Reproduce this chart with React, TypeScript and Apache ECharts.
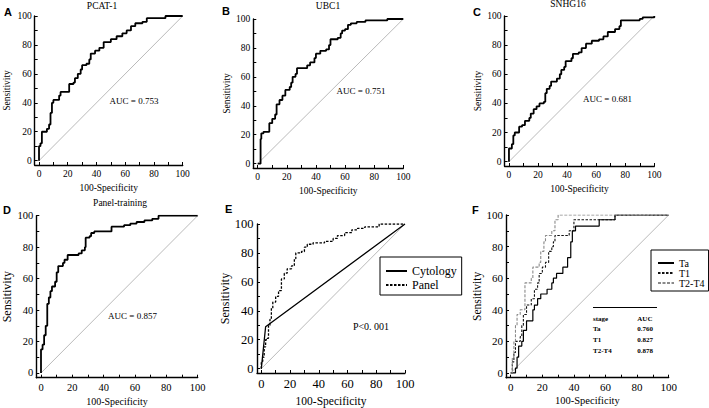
import React, { useEffect, useRef } from "react";
import * as echarts from "echarts";

// ---- tick values ----
const TICK_VALUES = [0, 20, 40, 60, 80, 100];
const MINOR_TICK_VALUES = [0, 10, 20, 30, 40, 50, 60, 70, 80, 90, 100];
const DIAGONAL_X = [0, 100];
const DIAGONAL_Y = [0, 100];

// ---- A: PCAT-1 ----
const pcat1X = [0, 0, 1, 2, 5.5, 7, 8, 9, 10, 14, 15, 21, 24, 25, 27, 29, 30, 33, 35, 36, 39, 42, 45, 50, 54, 58, 61, 64, 67, 72, 75, 88, 100];
const pcat1Y = [0, 10, 12, 20, 22, 25, 33, 40, 42, 45, 47.5, 53, 54, 57, 60, 63, 66, 67, 70, 74, 76, 78, 82, 84, 86, 88, 90, 93, 95, 96, 98.5, 100, 100];

// ---- B: UBC1 ----
const ubc1X = [0, 2, 2.5, 4, 8, 10, 12, 13, 15, 17, 19, 22, 23, 24, 26, 27, 34, 36, 39, 40, 43, 47, 49, 50, 55, 57, 58, 60, 62, 64, 68, 74, 89, 100];
const ubc1Y = [0, 17, 21, 22, 28, 31, 34, 41, 44, 47, 51, 53, 56, 60, 62, 66, 68, 70, 73, 76, 78, 79, 82, 86, 87, 90, 92, 93, 96, 97, 98, 99, 100, 100];

// ---- C: SNHG16 ----
const snhg16X = [0, 0, 2, 3, 4, 7, 9, 11, 14, 15, 17, 19, 21, 24, 25, 26, 28, 29, 33, 35, 36, 38, 39, 43, 44, 48, 50, 53, 57, 62, 65, 68, 73, 76, 77, 90, 92, 100];
const snhg16Y = [0, 9, 12, 18, 20, 24, 25, 28, 30, 33, 36, 38, 40, 41, 47, 50, 52, 55, 57, 60, 63, 65, 69, 71, 74, 75, 78, 81, 83, 84, 86, 89, 91, 93, 97, 98, 99, 100];

// ---- D: Panel-training ----
const trainingX = [0, 0, 1, 2, 3, 4, 5, 6, 7, 9, 10, 11, 14, 15, 17, 24, 26, 28, 28.5, 31, 32, 34, 45, 53, 57, 61, 66, 71, 75, 100];
const trainingY = [0, 15, 18, 24, 30, 44, 48, 52, 55, 58, 64, 68, 70, 72, 75, 76, 78, 80, 86, 87, 89, 90, 93, 94, 95, 96, 97, 98, 100, 100];

// ---- E: Cytology vs Panel ----
const cytologyX = [0, 3, 100];
const cytologyY = [0, 29, 100];
const panelX = [0, 0, 1, 2, 3, 4, 5, 6, 7, 8, 10, 12, 14, 16, 18, 21, 23, 24, 28, 30, 32, 36, 44, 50, 53, 58, 63, 67, 72, 82, 100];
const panelY = [0, 5, 8, 15, 20, 21, 30, 34, 42, 46, 50, 54, 62, 66, 69, 71, 76, 80, 81, 84, 86, 87, 88, 90, 92, 94, 96, 97, 98, 100, 100];

// ---- F: by stage ----
const taX = [0, 3, 4, 5, 7, 8, 10, 14, 15, 17, 19, 23, 26, 27, 29, 33, 36, 38, 39, 41, 56, 66, 100];
const taY = [0, 3, 10, 17, 20, 27, 33, 40, 43, 47, 50, 53, 57, 60, 63, 67, 73, 83, 90, 93, 97, 100, 100];
const t1X = [0, 1, 2, 3, 6, 7, 8, 10, 13, 15, 17, 18, 20, 22, 24, 26, 27, 28, 37, 40, 66, 100];
const t1Y = [0, 7, 13, 20, 23, 30, 37, 43, 47, 53, 57, 63, 67, 70, 77, 80, 83, 87, 90, 97, 100, 100];
const t2t4X = [0, 1, 2, 3, 4, 6, 9, 13, 14, 18, 19, 21, 22, 26, 28, 30, 100];
const t2t4Y = [0, 10, 20, 30, 37, 40, 57, 60, 67, 70, 77, 83, 87, 90, 97, 100, 100];

// ---- table in F ----
const stageNames = ["Ta", "T1", "T2-T4"];
const stageAUC = ["0.760", "0.827", "0.878"];

const SERIF = '"Liberation Serif", "Times New Roman", serif';
const SANS = '"Liberation Sans", Arial, sans-serif';

const zip = (xs: number[], ys: number[]) => xs.map((x, i) => [x, ys[i]]);

type Layout = {
  left: number; top: number; width: number; height: number;
  tick: number; xName: number; yName: number;
  xGap: number; yGap: number; xMargin: number; yMargin: number;
};

const layouts: Layout[] = [
  { left: 34.7, top: 16, width: 148, height: 149, tick: 9.5, xName: 9.5, yName: 9.5, xGap: 18.3, yGap: 23, xMargin: 3.5, yMargin: 3 },
  { left: 253.3, top: 19, width: 150, height: 149, tick: 9.5, xName: 9.5, yName: 9.5, xGap: 18, yGap: 19.5, xMargin: 3.5, yMargin: 3 },
  { left: 504.6, top: 16, width: 149.7, height: 150, tick: 9.5, xName: 9.5, yName: 9.5, xGap: 17.6, yGap: 21.5, xMargin: 3.5, yMargin: 3 },
  { left: 35.3, top: 215.7, width: 162.4, height: 162, tick: 10.5, xName: 10, yName: 12, xGap: 18.3, yGap: 23.3, xMargin: 4, yMargin: 3 },
  { left: 257, top: 224, width: 148, height: 149.4, tick: 12.5, xName: 11.5, yName: 12, xGap: 22, yGap: 24, xMargin: 4, yMargin: 3.5 },
  { left: 506, top: 215, width: 162.7, height: 162.7, tick: 11, xName: 10.5, yName: 11.5, xGap: 17, yGap: 20, xMargin: 3.5, yMargin: 3 },
];

function buildOption() {
  const grid = layouts.map((l) => ({ left: l.left, top: l.top, width: l.width, height: l.height, containLabel: false }));
  const axisLine = { show: true, onZero: false, lineStyle: { color: "#000", width: 1.4 } };
  const xAxis = layouts.map((l, i) => ({
    gridIndex: i, type: "value", min: -3, max: 100,
    axisLine,
    axisTick: { show: true, inside: true, length: 3, customValues: MINOR_TICK_VALUES, lineStyle: { color: "#000", width: 1 } },
    axisLabel: { customValues: TICK_VALUES, fontSize: l.tick, fontFamily: SERIF, color: "#000", margin: l.xMargin },
    splitLine: { show: false },
    name: "100-Specificity", nameLocation: "middle", nameGap: l.xGap,
    nameTextStyle: { fontSize: l.xName, fontFamily: SERIF, color: "#000" },
  }));
  const yAxis = layouts.map((l, i) => ({
    gridIndex: i, type: "value", min: -3, max: 100,
    axisLine,
    axisTick: { show: true, inside: true, length: 3, customValues: MINOR_TICK_VALUES, lineStyle: { color: "#000", width: 1 } },
    axisLabel: { customValues: TICK_VALUES, fontSize: l.tick, fontFamily: SERIF, color: "#000", margin: l.yMargin },
    splitLine: { show: false },
    name: "Sensitivity", nameLocation: "middle", nameGap: l.yGap,
    nameTextStyle: { fontSize: l.yName, fontFamily: SERIF, color: "#000" },
  }));

  const diag = (i: number) => ({
    type: "line", name: "ref" + i, xAxisIndex: i, yAxisIndex: i,
    data: zip(DIAGONAL_X, DIAGONAL_Y), symbol: "none", silent: true,
    lineStyle: { color: "#a8a8a8", width: 0.8 }, z: 1,
  });
  const roc = (i: number, name: string, xs: number[], ys: number[], lineStyle: any, step: any = "end") => ({
    type: "line", name, xAxisIndex: i, yAxisIndex: i, step,
    data: zip(xs, ys), symbol: "none", showSymbol: false,
    lineStyle, itemStyle: { color: lineStyle.color }, z: 3,
  });

  const bold = { color: "#000", width: 1.8 };
  const series: any[] = [];
  for (let i = 0; i < 6; i++) series.push(diag(i));
  series.push(roc(0, "PCAT-1", pcat1X, pcat1Y, bold));
  series.push(roc(1, "UBC1", ubc1X, ubc1Y, bold));
  series.push(roc(2, "SNHG16", snhg16X, snhg16Y, bold));
  series.push(roc(3, "Panel-training", trainingX, trainingY, bold));
  series.push(roc(4, "Cytology", cytologyX, cytologyY, { color: "#000", width: 1.3 }, false));
  series.push(roc(4, "Panel", panelX, panelY, { color: "#000", width: 1.3, type: [2.5, 1.5] }));
  series.push(roc(5, "Ta", taX, taY, { color: "#000", width: 1.2 }));
  series.push(roc(5, "T1", t1X, t1Y, { color: "#111", width: 1.1, type: [2.5, 1.5] }));
  series.push(roc(5, "T2-T4", t2t4X, t2t4Y, { color: "#8a8a8a", width: 1.1, type: [3, 1.5] }));

  const txt = (x: number, y: number, text: string, size: number, opts: any = {}) => ({
    type: "text", x, y, silent: true,
    style: {
      text, fontSize: size, fontFamily: opts.family || SERIF, fontWeight: opts.weight || "normal",
      fill: "#000", align: opts.align || "center", textAlign: opts.align || "center",
      verticalAlign: "middle", textVerticalAlign: "middle",
    },
  });

  const graphic: any[] = [
    txt(8, 11.7, "A", 11, { family: SANS, weight: "bold" }),
    txt(226, 10.7, "B", 11, { family: SANS, weight: "bold" }),
    txt(477, 11.7, "C", 11, { family: SANS, weight: "bold" }),
    txt(7, 209.5, "D", 11, { family: SANS, weight: "bold" }),
    txt(228.7, 209, "E", 11, { family: SANS, weight: "bold" }),
    txt(475.3, 209.5, "F", 11, { family: SANS, weight: "bold" }),
    txt(102, 6, "PCAT-1", 9.5),
    txt(328, 6, "UBC1", 9.5),
    txt(568, 4, "SNHG16", 9.5),
    txt(120, 203.3, "Panel-training", 9.5),
    txt(134, 101, "AUC = 0.753", 9),
    txt(361, 90.7, "AUC = 0.751", 9),
    txt(607.5, 98.7, "AUC = 0.681", 9),
    txt(132.5, 315.7, "AUC = 0.857", 9),
    txt(371, 326.7, "P<0. 001", 10),
    { type: "line", silent: true, shape: { x1: 593, y1: 307.5, x2: 657, y2: 307.5 }, style: { stroke: "#000", lineWidth: 1 } },
    txt(593, 319, "stage", 7, { align: "left", weight: "bold" }),
    txt(637.3, 319, "AUC", 7, { align: "left", weight: "bold" }),
  ];
  const rowsY = [329.3, 340, 350.7];
  stageNames.forEach((s, i) => {
    graphic.push(txt(593, rowsY[i], s, 7, { align: "left", weight: "bold" }));
    graphic.push(txt(637.3, rowsY[i], stageAUC[i], 7, { align: "left", weight: "bold" }));
  });

  const hiddenSymbol = { opacity: 0, borderWidth: 0 };
  const legend = [
    {
      data: ["Cytology", "Panel"], orient: "vertical", left: 380, top: 257,
      padding: [8, 5, 4, 5], itemGap: 2, itemWidth: 21, itemHeight: 12,
      borderColor: "#000", borderWidth: 1, selectedMode: false,
      itemStyle: hiddenSymbol,
      textStyle: { fontSize: 12, fontFamily: SERIF, color: "#000" },
    },
    {
      data: ["Ta", "T1", "T2-T4"], orient: "vertical", left: 651, top: 250,
      padding: [8, 4, 3, 6], itemGap: 0, itemWidth: 16, itemHeight: 10,
      borderColor: "#000", borderWidth: 1, selectedMode: false,
      itemStyle: hiddenSymbol,
      textStyle: { fontSize: 10, fontFamily: SERIF, color: "#000" },
    },
  ];

  return {
    animation: false,
    backgroundColor: "#fff",
    grid, xAxis, yAxis, series, graphic, legend,
  };
}

export default function App() {
  const ref = useRef<HTMLDivElement>(null);
  useEffect(() => {
    if (!ref.current) return;
    const chart = echarts.init(ref.current, undefined, { renderer: "svg" });
    chart.setOption(buildOption() as any);
    return () => chart.dispose();
  }, []);
  return <div ref={ref} style={{ position: "fixed", left: 0, top: 0, width: 709, height: 408 }} />;
}
